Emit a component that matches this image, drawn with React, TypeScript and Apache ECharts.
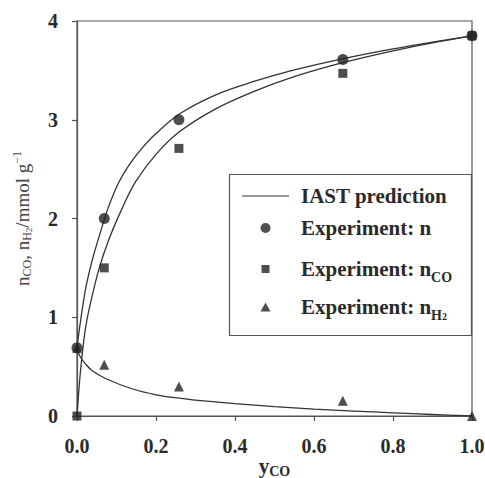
import React, { useEffect, useRef } from "react";
import * as echarts from "echarts";

// IAST prediction curves
const iastNX = [0, 0.005, 0.02, 0.03, 0.04, 0.06, 0.08, 0.105, 0.13, 0.16, 0.2, 0.26, 0.35, 0.45, 0.55, 0.675, 0.8, 0.9, 1.0];
const iastNY = [0.68, 0.85, 1.25, 1.44, 1.6, 1.87, 2.12, 2.36, 2.53, 2.69, 2.86, 3.06, 3.25, 3.39, 3.505, 3.62, 3.718, 3.787, 3.85];
const iastCOX = [0, 0.008, 0.017, 0.025, 0.034, 0.055, 0.08, 0.114, 0.148, 0.2, 0.26, 0.35, 0.45, 0.55, 0.675, 0.8, 0.9, 1.0];
const iastCOY = [0, 0.42, 0.76, 0.97, 1.14, 1.48, 1.78, 2.1, 2.37, 2.65, 2.88, 3.108, 3.29, 3.436, 3.58, 3.698, 3.779, 3.85];
const iastH2X = [0, 0.008, 0.021, 0.038, 0.072, 0.139, 0.2, 0.26, 0.3, 0.4, 0.5, 0.6, 0.7, 0.8, 0.9, 1.0];
const iastH2Y = [0.68, 0.6, 0.53, 0.46, 0.38, 0.276, 0.215, 0.18, 0.16, 0.125, 0.095, 0.07, 0.05, 0.032, 0.015, 0];

// Experimental points
const expX = [0, 0.069, 0.258, 0.673, 1.0];
const expN = [0.69, 2.0, 3.0, 3.61, 3.85];
const expCO = [0, 1.5, 2.71, 3.47, 3.85];
const expH2 = [0.69, 0.52, 0.3, 0.155, 0];

const xTicks = [0, 0.2, 0.4, 0.6, 0.8, 1.0];
const yTicks = [0, 1, 2, 3, 4];

const legendNames = ["IAST prediction", "Experiment: n", "Experiment: nCO", "Experiment: nH2"];
const legendLabels = [
  "{b|IAST prediction}",
  "{b|Experiment: n}",
  "{b|Experiment: n}{s|CO}",
  "{b|Experiment: n}{s|H}{ss|2}",
];

const FONT = "'Liberation Serif', 'Times New Roman', serif";
const INK = "#2a2a2a";

const pair = (xs: number[], ys: number[]) => xs.map((x, i) => [x, ys[i]]);

// legend icons: 54 x 10 boxes, glyph centred in the left 47 px
const ICONS = [
  "path://M0,0 M0,4.4 L47,4.4 L47,5.6 L0,5.6 Z M54,10",
  "path://M0,0 M18.5,5 A5,5 0 1,1 28.5,5 A5,5 0 1,1 18.5,5 Z M54,10",
  "path://M0,0 M19.5,1 L27.5,1 L27.5,9 L19.5,9 Z M54,10",
  "path://M0,0 M23.5,0.5 L28.5,9.5 L18.5,9.5 Z M54,10",
];
const LEGEND_TOP = [184, 216, 254, 292];

export default function App() {
  const ref = useRef<HTMLDivElement>(null);
  useEffect(() => {
    const chart = echarts.init(ref.current!, null, { renderer: "svg" });
    const lineStyle = { color: "#333", width: 1.3 };
    const curve = (xs: number[], ys: number[]) => ({
      name: "IAST prediction",
      type: "line",
      data: pair(xs, ys),
      showSymbol: false,
      symbol: "none",
      smooth: 0.35,
      lineStyle,
      itemStyle: { color: "#333" },
      z: 2,
    });
    const legendText = {
      fontFamily: FONT,
      fontSize: 21,
      fontWeight: "bold",
      color: INK,
      lineHeight: 24,
      rich: {
        b: { fontFamily: FONT, fontSize: 21, fontWeight: "bold", color: INK, lineHeight: 24 },
        s: { fontFamily: FONT, fontSize: 14, fontWeight: "bold", color: INK, lineHeight: 24, padding: [16, 0, 0, 0] },
        ss: { fontFamily: FONT, fontSize: 10, fontWeight: "bold", color: INK, lineHeight: 24, padding: [18, 0, 0, 0] },
      },
    };
    const legends = legendNames.map((name, i) => ({
      orient: "vertical",
      left: 242,
      top: LEGEND_TOP[i],
      padding: 0,
      itemWidth: 54,
      itemHeight: 10,
      data: [{ name, icon: ICONS[i] }],
      formatter: () => legendLabels[i],
      textStyle: legendText,
    }));
    chart.setOption({
      animation: false,
      grid: {
        left: 77,
        right: 13,
        top: 21,
        bottom: 62,
        show: true,
        borderColor: "#555",
        borderWidth: 1.2,
        outerBoundsMode: "none",
        containLabel: false,
      },
      legend: legends,
      graphic: [
        {
          type: "rect",
          shape: { x: 229.5, y: 174.5, width: 242, height: 161 },
          style: { fill: "none", stroke: "#555", lineWidth: 1.2 },
          z: 5,
        },
      ],
      xAxis: {
        type: "value",
        min: 0,
        max: 1,
        interval: 0.2,
        name: "{m|y}{s|CO}",
        nameLocation: "middle",
        nameGap: 38,
        nameMoveOverlap: false,
        nameTextStyle: {
          rich: {
            m: { fontFamily: FONT, fontSize: 21, fontWeight: "bold", color: INK },
            s: { fontFamily: FONT, fontSize: 14, fontWeight: "bold", color: INK, padding: [10, 0, 0, 0] },
          },
        },
        axisLine: { lineStyle: { color: "#555", width: 1.2 } },
        axisTick: { show: true, inside: false, length: 5, lineStyle: { color: "#555", width: 1.2 } },
        axisLabel: {
          margin: 20,
          fontFamily: FONT,
          fontSize: 20,
          fontWeight: "bold",
          color: INK,
          formatter: (v: number) => (xTicks.includes(v) ? v.toFixed(1) : ""),
        },
        splitLine: { show: false },
      },
      yAxis: {
        type: "value",
        min: 0,
        max: 4,
        interval: 1,
        name: "{m|n}{s|CO}{m|, n}{s|H}{ss|2}{m|/mmol g}{p|−1}",
        nameLocation: "middle",
        nameRotate: 90,
        nameGap: 44,
        nameMoveOverlap: false,
        nameTextStyle: {
          rich: {
            m: { fontFamily: FONT, fontSize: 19, color: "#444" },
            s: { fontFamily: FONT, fontSize: 12, color: "#444", padding: [9, 0, 0, 0] },
            ss: { fontFamily: FONT, fontSize: 9, color: "#444", padding: [13, 0, 0, 0] },
            p: { fontFamily: FONT, fontSize: 12, color: "#444", padding: [0, 0, 10, 0] },
          },
        },
        axisLine: { show: true, lineStyle: { color: "#555", width: 1.2 } },
        axisTick: { show: true, inside: false, length: 5, lineStyle: { color: "#555", width: 1.2 } },
        axisLabel: {
          margin: 19,
          fontFamily: FONT,
          fontSize: 20,
          fontWeight: "bold",
          color: INK,
          formatter: (v: number) => (yTicks.includes(v) ? String(v) : ""),
        },
        splitLine: { show: false },
      },
      series: [
        curve(iastNX, iastNY),
        curve(iastCOX, iastCOY),
        curve(iastH2X, iastH2Y),
        {
          name: "Experiment: nH2",
          type: "scatter",
          symbol: "triangle",
          symbolSize: 10,
          data: pair(expX, expH2),
          itemStyle: { color: "#222" },
          z: 3,
        },
        {
          name: "Experiment: nCO",
          type: "scatter",
          symbol: "rect",
          symbolSize: 9,
          data: pair(expX, expCO),
          itemStyle: { color: "#222" },
          z: 3,
        },
        {
          name: "Experiment: n",
          type: "scatter",
          symbol: "circle",
          symbolSize: 11,
          data: pair(expX, expN),
          itemStyle: { color: "#222" },
          z: 4,
        },
      ],
    });
    return () => chart.dispose();
  }, []);
  return (
    <div
      ref={ref}
      style={{ position: "fixed", left: 0, top: 0, width: 485, height: 478, background: "#fff" }}
    />
  );
}
